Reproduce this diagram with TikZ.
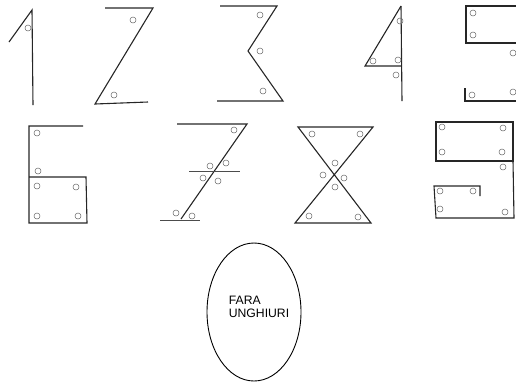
\documentclass[tikz,border=0pt]{standalone}
\usepackage{fontspec}
\setmainfont{Liberation Sans}
\usepackage{xcolor}
\usepackage{tikz}
\usetikzlibrary{shapes.geometric}

\tikzset{
  cifra/.style={line width=1.1pt,draw=black!85,line join=miter},
  subtire/.style={line width=0.7pt,draw=black!70},
  gaura/.style={line width=0.5pt,draw=black!60}
}

\begin{document}
\begin{tikzpicture}[x=1pt,y=-1pt]
  \useasboundingbox (0,0) rectangle (516,384);
  \draw[cifra] (9,42) -- (32,10) -- (33,105);
  \foreach \p in {(28,28)} \draw[gaura] \p circle (3pt);
  \draw[cifra] (105,8) -- (153,8) -- (95,104) -- (148,102);
  \foreach \p in {(133,20),(114,95)} \draw[gaura] \p circle (3pt);
  \draw[cifra] (220,6) -- (277,6) -- (248,51) -- (283,101) -- (217,101);
  \foreach \p in {(260,15),(260,51),(263,91)} \draw[gaura] \p circle (3pt);
  \draw[cifra] (401,6) -- (365,66) -- (401,66); \draw[cifra] (401,6) -- (402,101);
  \foreach \p in {(400,21),(373,61),(398,60),(396,75)} \draw[gaura] \p circle (3pt);
  \draw[cifra] (516,6) -- (466,6) -- (466,43) -- (516,43);
  \draw[cifra] (465,88) -- (465,101) -- (516,101);
  \foreach \p in {(473,13),(473,35),(513,53),(472,95),(513,92)} \draw[gaura] \p circle (3pt);

  \draw[cifra] (83,126) -- (29,126) -- (29,223) -- (87,223) -- (86,177) -- (29,177);
  \foreach \p in {(37,133),(38,171),(37,186),(76,187),(37,216),(78,216)} \draw[gaura] \p circle (3pt);
  \draw[cifra] (177,124) -- (247,124) -- (181,219);
  \draw[subtire] (189,171) -- (240,171); \draw[subtire] (160,220) -- (200,220);
  \foreach \p in {(234,130),(210,166),(226,163),(203,178),(218,181),(176,213),(192,216)} \draw[gaura] \p circle (3pt);
  \draw[cifra] (298,127) -- (373,127) -- (295,223) -- (371,223) -- cycle;
  \foreach \p in {(312,134),(360,134),(335,163),(323,175),(344,178),(335,187),(309,216),(358,217)} \draw[gaura] \p circle (3pt);
  \draw[cifra] (436,122) rectangle (513,161);
  \draw[cifra] (513,161) -- (514,218) -- (436,218) -- (434,186) -- (480,186) -- (480,196);
  \foreach \p in {(442,127),(503,128),(442,152),(502,152),(503,167),(440,191),(473,191),(440,209),(505,212)} \draw[gaura] \p circle (3pt);

  \node[draw,ellipse,line width=0.9pt,minimum width=94pt,minimum height=138pt,inner sep=0pt] (faraUnghiuri) at (254,312) {};
  \node[align=left,font=\fontsize{12.2}{13}\selectfont,inner sep=0pt] (textFara) at (259,307) {FARA\\UNGHIURI};
\end{tikzpicture}
\end{document}
